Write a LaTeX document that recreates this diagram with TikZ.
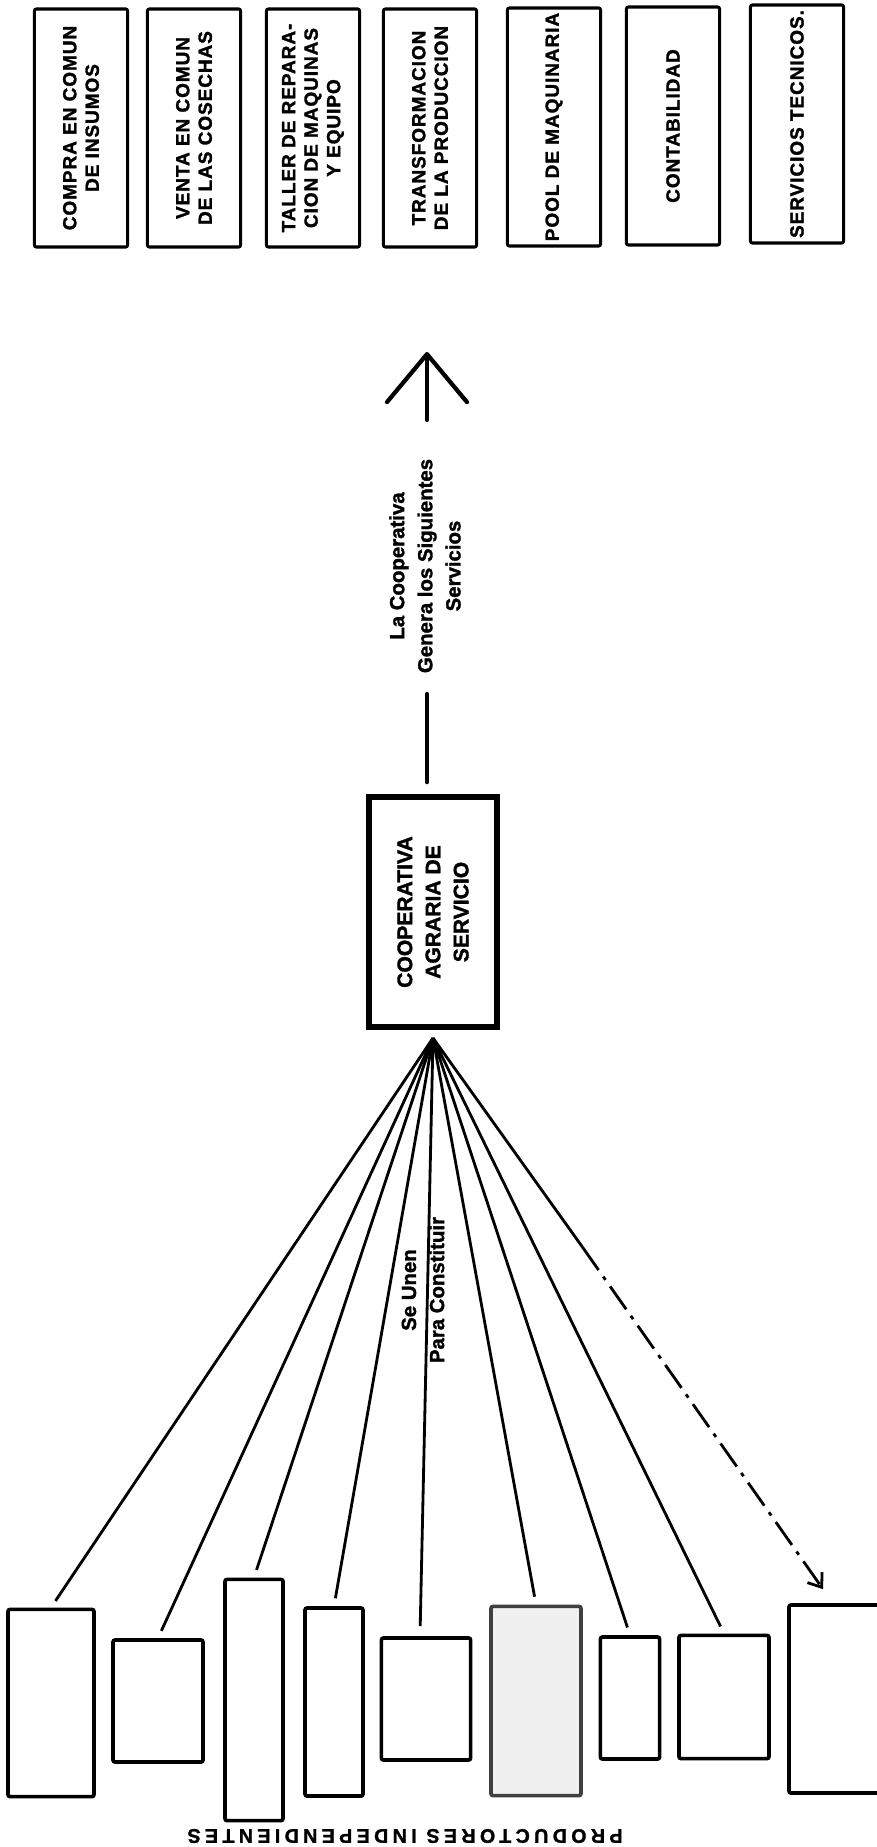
\documentclass[tikz,border=0pt]{standalone}
\usepackage{fontspec}
\setmainfont{Liberation Sans}[BoldFont={Liberation Sans Bold}, BoldFeatures={FakeBold=1.6}]
\newfontfamily\svcfont{Liberation Sans}[LetterSpace=5, BoldFont={Liberation Sans Bold}, BoldFeatures={FakeBold=1.6}]
\newfontfamily\prodfont{Liberation Sans}[LetterSpace=22, BoldFont={Liberation Sans Bold}, BoldFeatures={FakeBold=1.2}]
\usetikzlibrary{arrows.meta, calc}
\tikzstyle{svcbox} = [draw, line width=2.2pt, rounded corners=1.5pt, rotate=90, minimum width=5.95cm, minimum height=2.33cm, inner sep=0pt, align=center, font=\svcfont\bfseries\fontsize{13.5}{16}\selectfont]
\tikzstyle{coopbox} = [draw, line width=4.2pt, rotate=90, minimum width=5.75cm, minimum height=3.2cm, align=center, font=\bfseries\fontsize{15}{20}\selectfont]
\tikzstyle{prodbox} = [draw, line width=2.6pt, rounded corners=1.5pt, inner sep=0pt]
\tikzstyle{note} = [rotate=90, align=center, font=\bfseries\fontsize{14.5}{20}\selectfont]
\tikzstyle{link} = [line width=3.2pt, line cap=round]
\tikzstyle{fan} = [line width=2pt]
\tikzstyle{bigarrow} = [line width=3pt, line cap=round, -{Straight Barb[length=1.2cm, width=2cm, round]}]

\begin{document}
\begin{tikzpicture}[x=0.025cm, y=-0.025cm]
        \useasboundingbox (0,0) rectangle (876,1847);

        % Services
        \node at (81,128) [svcbox] (s1) {COMPRA EN COMUN\\DE INSUMOS};
        \node at (194,128) [svcbox] (s2) {VENTA EN COMUN\\DE LAS COSECHAS};
        \node at (313,128) [svcbox] (s3) {TALLER DE REPARA-\\CION DE MAQUINAS\\Y EQUIPO};
        \node at (430,128) [svcbox] (s4) {TRANSFORMACION\\DE LA PRODUCCION};
        \node at (554,127) [svcbox] (s5) {POOL DE MAQUINARIA};
        \node at (673,126) [svcbox] (s6) {CONTABILIDAD};
        \node at (797,124) [svcbox] (s7) {SERVICIOS TECNICOS.};

        % Arrow to the services
        \coordinate (up0) at (427,420);
        \coordinate (up1) at (427,352);
        \draw [bigarrow] (up0) -- (up1);

        % Cooperative and its label
        \node at (425,566) [note] (gen) {La Cooperativa\\Genera los Siguientes\\Servicios};
        \node at (433,912) [coopbox] (coop) {COOPERATIVA\\AGRARIA DE\\SERVICIO};
        \draw [link, shorten <=0.3cm, shorten >=0.4cm] (coop.east -| up0) -- (gen.west -| up0);

        % Producers
        \node at (51,1703) [prodbox, minimum width=2.15cm, minimum height=4.68cm] (p1) {};
        \node at (158,1701) [prodbox, minimum width=2.25cm, minimum height=3.05cm] (p2) {};
        \node at (254,1700) [prodbox, minimum width=1.45cm, minimum height=6.03cm] (p3) {};
        \node at (334,1702) [prodbox, minimum width=1.45cm, minimum height=4.7cm] (p4) {};
        \node at (426,1699) [prodbox, minimum width=2.23cm, minimum height=3.05cm] (p5) {};
        \node at (536,1701) [prodbox, draw=black!75, fill=black!6, minimum width=2.25cm, minimum height=4.73cm] (p6) {};
        \node at (630,1698) [prodbox, minimum width=1.48cm, minimum height=3.05cm] (p7) {};
        \node at (724,1697) [prodbox, minimum width=2.25cm, minimum height=3.08cm] (p8) {};
        \node at (837,1699) [prodbox, minimum width=2.4cm, minimum height=4.7cm] (p9) {};
        \node at (405,1836) [rotate=180, font=\prodfont\bfseries\fontsize{14}{16}\selectfont] (prod) {PRODUCTORES INDEPENDIENTES};

        % Fan into the cooperative
        \coordinate (hub) at (433,1038);
        \node at (423,1290) [note] (une) {Se Unen\\Para Constituir};
        \foreach \p in {p1,p2,p3,p4,p6,p7,p8}
            \draw [fan, shorten <=0.2cm] (\p.north) -- (hub);
        \draw [fan, shorten <=0.25cm, -{Latex[length=0.35cm, width=0.28cm]}] ([xshift=-0.15cm]p5.north) -- (hub);
        \draw [fan] (hub) -- ($(hub)!0.37!(p9.north)$) coordinate (brk);
        \draw [fan, dash pattern=on 0.7cm off 0.2cm on 0.1cm off 0.2cm, -{Straight Barb[length=0.3cm, width=0.45cm]}] (brk) -- ([xshift=-0.35cm, yshift=0.35cm]p9.north);

\end{tikzpicture}
\end{document}
